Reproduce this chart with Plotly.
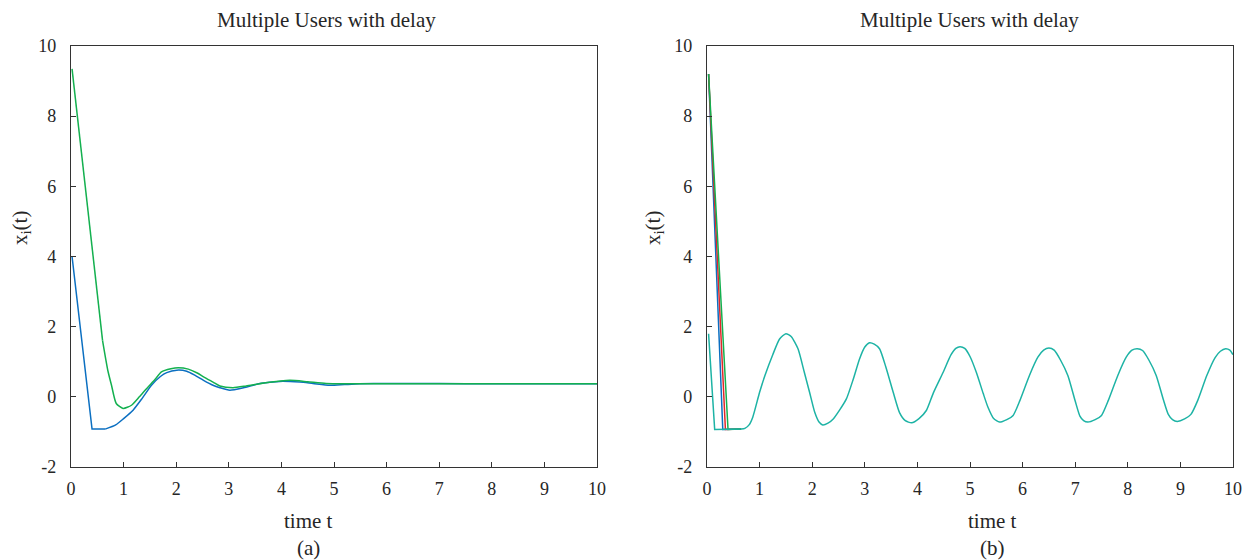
import plotly.graph_objects as go

# ---------- data ----------
# Panel (a)
a_blue_t = [0.02, 0.40, 0.65, 0.85, 1.00, 1.18, 1.35, 1.53, 1.70, 1.82, 2.01, 2.20, 2.35, 2.52, 2.70,
            2.83, 3.02, 3.28, 3.59, 3.97, 4.35, 4.60, 4.92, 5.20, 5.49, 6.00, 7.00, 8.00, 9.00, 10.00]
a_blue_y = [4.00, -0.92, -0.92, -0.80, -0.62, -0.38, -0.05, 0.33, 0.58, 0.69, 0.76, 0.73, 0.62, 0.47, 0.33,
            0.26, 0.19, 0.26, 0.38, 0.44, 0.42, 0.38, 0.33, 0.35, 0.37, 0.38, 0.38, 0.37, 0.37, 0.37]

a_green_t = [0.02, 0.60, 0.70, 0.77, 0.86, 0.99, 1.15, 1.30, 1.44, 1.60, 1.72, 1.90, 2.04, 2.23, 2.40,
             2.52, 2.70, 2.83, 3.08, 3.33, 3.70, 4.16, 4.50, 4.85, 5.50, 6.00, 7.00, 8.00, 9.00, 10.00]
a_green_y = [9.35, 1.60, 0.75, 0.33, -0.19, -0.33, -0.24, 0.00, 0.24, 0.50, 0.71, 0.80, 0.83, 0.79, 0.68,
             0.57, 0.42, 0.31, 0.26, 0.31, 0.40, 0.47, 0.43, 0.38, 0.37, 0.37, 0.37, 0.37, 0.37, 0.37]

# Panel (b)
b_blue_t = [0.03, 0.30, 0.65]
b_blue_y = [9.20, -0.93, -0.92]
b_red_t = [0.03, 0.35, 0.65]
b_red_y = [9.20, -0.93, -0.92]
b_green_t = [0.03, 0.40, 0.65]
b_green_y = [9.20, -0.93, -0.92]

b_teal_t = [0.03, 0.146, 0.65, 0.72, 0.80, 0.87, 1.00, 1.10, 1.25, 1.38, 1.50, 1.60, 1.73, 1.85, 1.95,
            2.05, 2.13, 2.20, 2.30, 2.40, 2.52, 2.65, 2.78, 2.90, 3.00, 3.09, 3.18, 3.28, 3.40, 3.54,
            3.66, 3.77, 3.89, 4.03, 4.17, 4.30, 4.49, 4.64, 4.73, 4.81, 4.90, 5.00, 5.12, 5.25, 5.34,
            5.45, 5.56, 5.70, 5.82, 5.95, 6.13, 6.29, 6.40, 6.50, 6.60, 6.72, 6.86, 7.00, 7.09, 7.16,
            7.24, 7.38, 7.50, 7.63, 7.81, 7.97, 8.08, 8.18, 8.28, 8.40, 8.54, 8.68, 8.77, 8.85, 8.94,
            9.08, 9.20, 9.33, 9.50, 9.66, 9.76, 9.86, 9.94, 10.00]
b_teal_y = [1.80, -0.93, -0.92, -0.90, -0.80, -0.58, 0.13, 0.60, 1.20, 1.65, 1.80, 1.72, 1.37, 0.70, 0.13,
            -0.45, -0.72, -0.80, -0.75, -0.63, -0.38, -0.06, 0.50, 1.08, 1.42, 1.54, 1.50, 1.37, 0.85, 0.13,
            -0.45, -0.68, -0.74, -0.62, -0.39, 0.10, 0.70, 1.20, 1.38, 1.43, 1.38, 1.15, 0.70, 0.10, -0.29,
            -0.62, -0.72, -0.65, -0.53, -0.10, 0.61, 1.13, 1.33, 1.39, 1.33, 1.05, 0.61, -0.12, -0.55, -0.68,
            -0.72, -0.65, -0.53, -0.10, 0.61, 1.13, 1.33, 1.37, 1.32, 1.05, 0.61, -0.10, -0.50, -0.65, -0.70,
            -0.63, -0.50, -0.10, 0.60, 1.12, 1.30, 1.37, 1.33, 1.20]

x_tickvals = [0, 1, 2, 3, 4, 5, 6, 7, 8, 9, 10]
x_ticktext = ["0", "1", "2", "3", "4", "5", "6", "7", "8", "9", "10"]
y_tickvals = [-2, 0, 2, 4, 6, 8, 10]
y_ticktext = ["-2", "0", "2", "4", "6", "8", "10"]

title_text = "Multiple Users with delay"
xlabel_text = "time t"
ylabel_text = "x<sub>i</sub>(t)"
panel_labels = ["(a)", "(b)"]

# ---------- style ----------
W, H = 1255, 560
ML, MR, MT, MB = 71, 22, 46, 93
PW, PH = W - ML - MR, H - MT - MB
FONT = "Liberation Serif"
TXT = "#262626"
AX = "#333333"
BLUE = "#0b6fc1"
RED = "#e3262b"
GREEN = "#13b04f"
TEAL = "#1db3a5"
LW = 1.5

def dx(p):
    return (p - ML) / PW

fig = go.Figure()

def add(t, y, color, xa, ya, smooth=False):
    line = dict(color=color, width=LW)
    if smooth:
        line.update(shape="spline", smoothing=0.6)
    fig.add_trace(go.Scatter(x=t, y=y, mode="lines", line=line,
                             xaxis=xa, yaxis=ya, showlegend=False, hoverinfo="skip"))

# panel (a): straight initial drop, smooth remainder
add(a_blue_t[:3], a_blue_y[:3], BLUE, "x", "y")
add(a_blue_t[2:], a_blue_y[2:], BLUE, "x", "y", smooth=True)
add(a_green_t[:2], a_green_y[:2], GREEN, "x", "y")
add(a_green_t[1:], a_green_y[1:], GREEN, "x", "y", smooth=True)
# panel (b)
add(b_blue_t, b_blue_y, BLUE, "x2", "y2")
add(b_red_t, b_red_y, RED, "x2", "y2")
add(b_green_t, b_green_y, GREEN, "x2", "y2")
add(b_teal_t[:3], b_teal_y[:3], TEAL, "x2", "y2")
add(b_teal_t[2:], b_teal_y[2:], TEAL, "x2", "y2", smooth=True)

common_x = dict(range=[0, 10], tickvals=x_tickvals, ticktext=x_ticktext, ticks="inside", ticklen=5,
                tickwidth=1, tickcolor=AX, showline=True, linecolor=AX, linewidth=1.3, mirror=True,
                showgrid=False, zeroline=False, automargin=False,
                tickfont=dict(family=FONT, size=18, color=TXT), ticklabelstandoff=5)
common_y = dict(range=[-2, 10], tickvals=y_tickvals, ticktext=y_ticktext, ticks="inside", ticklen=5,
                tickwidth=1, tickcolor=AX, showline=True, linecolor=AX, linewidth=1.3, mirror=True,
                showgrid=False, zeroline=False, automargin=False,
                tickfont=dict(family=FONT, size=18, color=TXT), ticklabelstandoff=10, domain=[0, 1])

fig.update_layout(
    width=W, height=H, margin=dict(l=ML, r=MR, t=MT, b=MB, autoexpand=False),
    paper_bgcolor="white", plot_bgcolor="white",
    xaxis=dict(domain=[0, dx(597)], anchor="y", **common_x),
    yaxis=dict(anchor="x", **common_y),
    xaxis2=dict(domain=[dx(707), 1], anchor="y2", **common_x),
    yaxis2=dict(anchor="x2", **common_y),
)

anns = []
anns_spec = [
    (title_text, 326, 20, 0),
    (title_text, 969, 20, 0),
    (xlabel_text, 308, 521, 0),
    (xlabel_text, 992, 521, 0),
    (panel_labels[0], 308, 548, 0),
    (panel_labels[1], 992, 548, 0),
    (ylabel_text, 21, 228, -90),
    (ylabel_text, 654, 228, -90),
]
for text, x, y, ang in anns_spec:
    anns.append(dict(text=text, x=(x - ML) / PW, y=(H - MB - y) / PH, xref="paper", yref="paper",
                     showarrow=False, xanchor="center", yanchor="middle", textangle=ang,
                     font=dict(family=FONT, size=21, color=TXT)))
fig.update_layout(annotations=anns)

fig.write_html("out.html", config={"displayModeBar": False},
               post_script="document.body.style.margin='0';document.body.style.overflow='hidden';")
